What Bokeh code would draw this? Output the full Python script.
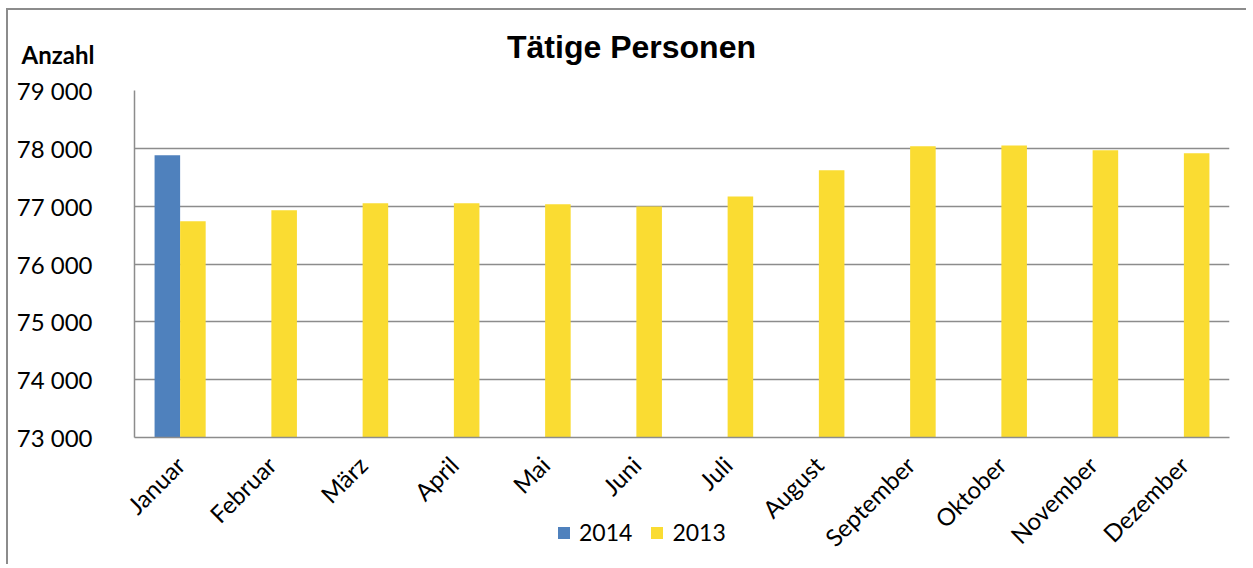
from bokeh.plotting import figure
from bokeh.models import ColumnDataSource, FixedTicker, Label, Legend, LegendItem, FactorRange
from bokeh.transform import dodge
from bokeh.embed import file_html
from bokeh.resources import INLINE

# ---- data ----
months = ["Januar", "Februar", "März", "April", "Mai", "Juni", "Juli",
          "August", "September", "Oktober", "November", "Dezember"]
months_2014 = ["Januar"]
values_2014 = [77880]
values_2013 = [76740, 76930, 77050, 77050, 77035, 76995, 77165,
               77620, 78035, 78050, 77965, 77915]
y_ticks = [73000, 74000, 75000, 76000, 77000, 78000, 79000]
y_tick_labels = ["73 000", "74 000", "75 000", "76 000", "77 000", "78 000", "79 000"]
series_names = ["2014", "2013"]
title_text = "Tätige Personen"
y_title = "Anzahl"

BLUE = "#4F81BD"
YELLOW = "#FADC32"
GRID = "#8c8c8c"
FONT = "Lato"

src13 = ColumnDataSource(dict(month=months, val=values_2013))
src14 = ColumnDataSource(dict(month=months_2014, val=values_2014))

p = figure(width=1240, height=556, output_backend="svg", toolbar_location=None,
           x_range=FactorRange(*months, range_padding=0), y_range=(73000, 79000),
           min_border_left=126, min_border_right=19, min_border_top=80, min_border_bottom=129)
p.styles = {"margin-left": "6px", "margin-top": "8px",
            "border-left": "2px solid #8c8c8c", "border-top": "2px solid #8c8c8c"}

r14 = p.vbar(x=dodge("month", -0.14, range=p.x_range), top="val", bottom=73000, width=0.28,
             source=src14, fill_color=BLUE, line_color=None)
r13 = p.vbar(x=dodge("month", 0.14, range=p.x_range), top="val", bottom=73000, width=0.28,
             source=src13, fill_color=YELLOW, line_color=None)

p.outline_line_color = None
p.xgrid.grid_line_color = None
p.ygrid.grid_line_color = GRID
p.ygrid.grid_line_width = 1.5
p.yaxis.ticker = FixedTicker(ticks=y_ticks)
p.yaxis.major_label_overrides = {t: l for t, l in zip(y_ticks, y_tick_labels)}

for ax in (p.xaxis[0], p.yaxis[0]):
    ax.axis_line_color = GRID
    ax.axis_line_width = 1.5
    ax.major_tick_line_color = None
    ax.minor_tick_line_color = None
    ax.major_tick_out = 0
    ax.major_tick_in = 0
    ax.minor_tick_out = 0
    ax.major_label_text_font = FONT
    ax.major_label_text_color = "black"

p.yaxis.major_label_text_font_size = "24px"
p.yaxis.major_label_standoff = 42
p.xaxis.major_label_text_font_size = "24px"
p.xaxis.major_label_orientation = 0.785398
p.xaxis.major_label_standoff = 23

# "Anzahl" first (panel nearest to the frame), then the title above it
p.add_layout(Label(x=-113, y=36, x_units="screen", y_units="screen", text=y_title,
                   text_font=FONT, text_font_style="bold", text_color="black",
                   text_font_size="24px", text_align="left", text_baseline="middle"), "above")
p.add_layout(Label(x=497, y=15, x_units="screen", y_units="screen", text=title_text,
                   text_font="Liberation Sans", text_font_style="bold", text_color="black",
                   text_font_size="32px", text_align="center", text_baseline="middle"), "above")

# small transparent figure that carries the legend, placed over the lower area
pl = figure(width=200, height=40, output_backend="svg", toolbar_location=None,
            x_axis_type=None, y_axis_type=None,
            x_range=FactorRange("legend"), y_range=(0, 1),
            min_border_left=0, min_border_right=0, min_border_top=0, min_border_bottom=0)
pl.outline_line_color = None
pl.background_fill_alpha = 0
pl.border_fill_alpha = 0
pl.xgrid.visible = False
pl.ygrid.visible = False
pl.styles = {"position": "absolute", "left": "556px", "top": "518px"}
# same series; their months are not in this view's range, only the swatches show
l14 = pl.vbar(x="month", top="val", bottom=73000, width=0.28, source=src14,
              fill_color=BLUE, line_color=None)
l13 = pl.vbar(x="month", top="val", bottom=73000, width=0.28, source=src13,
              fill_color=YELLOW, line_color=None)
legend = Legend(items=[LegendItem(label=series_names[0], renderers=[l14]),
                       LegendItem(label=series_names[1], renderers=[l13])],
                orientation="horizontal", location="top_left",
                border_line_color=None, background_fill_alpha=0,
                padding=0, margin=0, spacing=17, label_standoff=8,
                glyph_width=15, glyph_height=15, label_height=28,
                label_text_font=FONT, label_text_font_size="23px",
                label_text_color="black")
pl.add_layout(legend, "center")

open("out.html", "w").write(file_html([p, pl], INLINE))
